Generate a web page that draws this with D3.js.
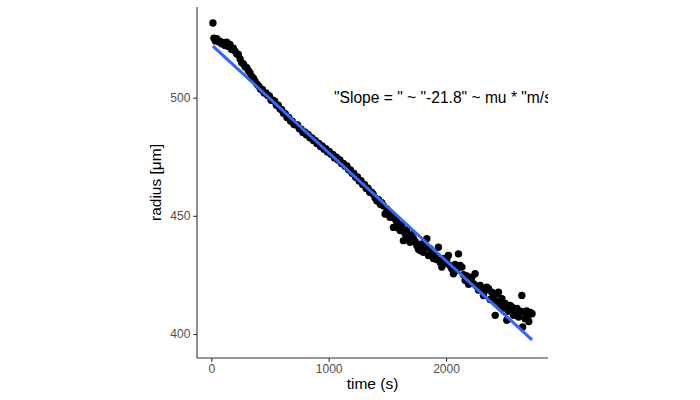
<!DOCTYPE html>
<html lang="en">
<head>
    <meta charset="UTF-8">
    <title>Radius vs time</title>
    <script src="https://d3js.org/d3.v7.min.js"></script>
    <style>
        body { margin: 0; background: white; }
        text { font-family: "Liberation Sans", Arial, sans-serif; }
    </style>
</head>
<body>
    <div id="chart"></div>

    <script>
        // measured points: time in s, radius in µm
        const time = [
            14, 22, 35, 46, 60, 74, 88, 102, 117, 131, 145, 159, 173, 188, 202, 216, 230, 245, 259, 273,
            288, 302, 316, 330, 345, 359, 373,
            390, 405, 420, 435, 450, 465, 480, 495, 510, 525, 540, 555, 570, 585, 600, 615, 630, 645, 660, 675,
            690, 705, 720, 735, 750, 765, 780, 795, 810, 825, 840, 855, 870, 885, 900, 915, 930, 945, 960, 975,
            990, 1005, 1020, 1035, 1050, 1065, 1080, 1095, 1110, 1125, 1140, 1155, 1170, 1185, 1200, 1215, 1230,
            1245, 1260, 1275, 1290, 1305, 1320, 1335, 1350, 1365,
            1378, 1395, 1410, 1425, 1440, 1452, 1466, 1481, 1495, 1509, 1523, 1538, 1552, 1566, 1581, 1595,
            1609, 1623, 1637, 1651, 1665, 1680, 1694, 1708, 1722, 1737, 1751, 1765, 1779, 1793, 1807, 1822,
            1836, 1850, 1865, 1879, 1893, 1907, 1921, 1935, 1950, 1964, 1978, 1992,
            2006, 2020, 2035, 2049, 2063, 2077, 2092, 2106, 2120, 2135, 2149, 2163, 2177, 2192, 2206, 2220,
            2234, 2248, 2262, 2277, 2291, 2305, 2319, 2334, 2348, 2362, 2376, 2390, 2404, 2419, 2425, 2433,
            2447, 2461, 2476, 2490, 2504, 2518, 2532, 2546, 2561, 2575, 2589, 2604, 2618, 2632, 2646, 2653,
            2660, 2674, 2687, 2696, 2705, 2719, 2733
        ];
        const radius = [
            531.6, 525.2, 524.0, 524.9, 523.6, 523.9, 522.8, 523.2, 522.1, 523.5, 521.6, 522.5, 520.4, 520.9, 519.7, 518.6, 518.3, 516.4, 514.8, 514.3,
            513.1, 512.7, 511.4, 510.5, 508.9, 508.1, 507.0,
            505.7, 504.8, 503.5, 503.5, 502.0, 502.0, 500.9, 500.7, 498.9, 498.9, 498.5, 496.8, 496.8, 495.3, 494.9, 493.4, 493.2, 491.6, 491.6, 490.1,
            490.0, 488.6, 488.5, 488.4, 486.8, 486.7, 485.3, 485.5, 484.3, 484.4, 483.0, 483.1, 481.9, 481.9, 480.6, 480.6, 479.3, 479.6, 478.2, 478.4,
            477.0, 477.2, 476.0, 476.0, 474.5, 474.8, 473.6, 473.6, 472.1, 472.2, 471.0, 471.1, 469.5, 469.4, 468.0, 467.9, 466.3,
            466.4, 464.7, 464.9, 463.3, 463.3, 461.6, 461.7, 460.0, 460.0,
            459.3, 457.6, 456.4, 456.8, 454.9, 455.6, 454.3, 450.8, 452.9, 451.2, 449.4, 450.6, 445.1, 448.7, 447.3, 444.9,
            443.8, 446.2, 439.5, 442.4, 444.0, 441.2, 438.8, 442.0, 440.3, 439.2, 437.4, 435.9, 435.3, 438.1, 434.6, 436.9,
            440.3, 433.2, 436.1, 434.4, 431.9, 433.2, 431.5, 436.7, 430.4, 428.3, 432.0, 429.8,
            431.1, 433.2, 428.9, 427.6, 425.5, 429.4, 427.0, 433.9, 429.0, 428.3, 425.1, 422.7, 424.6, 421.0, 421.9, 424.0,
            421.3, 425.5, 420.2, 418.6, 420.5, 419.0, 416.3, 418.4, 419.8, 419.2, 414.6, 417.7, 415.6, 407.9, 413.9, 417.0,
            417.7, 412.6, 414.9, 411.0, 412.9, 405.8, 409.6, 412.1, 411.4, 407.9, 409.9, 410.8, 407.2, 409.6, 416.3, 403.0,
            409.3, 406.5, 409.8, 407.4, 405.3, 409.1, 408.6
        ];

        // linear fit (geom_smooth) with its confidence band
        const fitTime = [14, 700, 1373, 2050, 2733];
        const fitRadius = [521.8, 490.4, 459.7, 428.7, 397.5];
        const fitLower = [520.9, 489.85, 459.25, 428.15, 396.6];
        const fitUpper = [522.7, 490.95, 460.15, 429.25, 398.4];

        const xTicks = [0, 1000, 2000];
        const yTicks = [400, 450, 500];
        const label = '"Slope = " ~ "-21.8" ~ mu * "m/s"';

        const points = time.map((t, i) => ({t: t, r: radius[i]}));
        const fit = fitTime.map((t, i) => ({t: t, r: fitRadius[i], lo: fitLower[i], hi: fitUpper[i]}));

        const W = 700, H = 400;
        const panel = {left: 197, right: 548, top: 7, bottom: 358};

        const svg = d3.select("#chart")
            .append("svg")
            .attr("width", W)
            .attr("height", H);

        svg.append("rect").attr("width", W).attr("height", H).attr("fill", "white");

        // ggplot style 5% expansion around the data
        function expand(ext) {
            const pad = (ext[1] - ext[0]) * 0.05;
            return [ext[0] - pad, ext[1] + pad];
        }
        const xExt = d3.extent(time.concat(fitTime));
        const yExt = d3.extent(radius.concat(fitLower, fitUpper));

        const x = d3.scaleLinear().domain(expand(xExt)).range([panel.left, panel.right]);
        const y = d3.scaleLinear().domain(expand(yExt)).range([panel.bottom, panel.top]);

        svg.append("clipPath").attr("id", "panel-clip")
            .append("rect")
            .attr("x", panel.left)
            .attr("y", panel.top)
            .attr("width", panel.right - panel.left)
            .attr("height", panel.bottom - panel.top);

        const plot = svg.append("g").attr("clip-path", "url(#panel-clip)");

        // points
        plot.selectAll("circle")
            .data(points)
            .enter()
            .append("circle")
            .attr("cx", d => x(d.t))
            .attr("cy", d => y(d.r))
            .attr("r", 3.7)
            .attr("fill", "black");

        // confidence band and fitted line
        plot.append("path")
            .datum(fit)
            .attr("fill", "#999999")
            .attr("fill-opacity", 0.4)
            .attr("d", d3.area().x(d => x(d.t)).y0(d => y(d.lo)).y1(d => y(d.hi)));

        plot.append("path")
            .datum(fit)
            .attr("fill", "none")
            .attr("stroke", "#3366FF")
            .attr("stroke-width", 3)
            .attr("d", d3.line().x(d => x(d.t)).y(d => y(d.r)));

        // annotation, clipped by the panel like in the original
        plot.append("text")
            .attr("x", 334)
            .attr("y", y(500))
            .attr("dy", "0.35em")
            .attr("font-size", "15.6px")
            .attr("fill", "black")
            .text(label);

        // axes
        const xAxis = svg.append("g")
            .attr("transform", `translate(0, ${panel.bottom})`)
            .call(d3.axisBottom(x).tickValues(xTicks).tickFormat(d3.format("d"))
                .tickSize(3.7).tickPadding(3).tickSizeOuter(0));
        const yAxis = svg.append("g")
            .attr("transform", `translate(${panel.left}, 0)`)
            .call(d3.axisLeft(y).tickValues(yTicks).tickFormat(d3.format("d"))
                .tickSize(3.7).tickPadding(3).tickSizeOuter(0));

        [xAxis, yAxis].forEach(a => {
            a.select(".domain").attr("stroke", "#333333").attr("stroke-width", 1.1);
            a.selectAll(".tick line").attr("stroke", "#333333").attr("stroke-width", 1.1);
            a.selectAll(".tick text")
                .attr("fill", "#4d4d4d")
                .attr("font-size", "12px")
                .attr("font-family", "Liberation Sans, Arial, sans-serif");
        });
        // domain lines spanning the full panel
        xAxis.select(".domain").attr("d", `M${panel.left},0H${panel.right}`);
        yAxis.select(".domain").attr("d", `M0,${panel.top}V${panel.bottom}`);

        svg.append("text")
            .attr("x", (panel.left + panel.right) / 2)
            .attr("y", 389)
            .attr("text-anchor", "middle")
            .attr("font-size", "15.5px")
            .attr("fill", "black")
            .text("time (s)");

        svg.append("text")
            .attr("transform", `translate(161, ${(panel.top + panel.bottom) / 2}) rotate(-90)`)
            .attr("text-anchor", "middle")
            .attr("font-size", "15.5px")
            .attr("fill", "black")
            .text("radius [\u03bcm]");
    </script>
</body>
</html>
